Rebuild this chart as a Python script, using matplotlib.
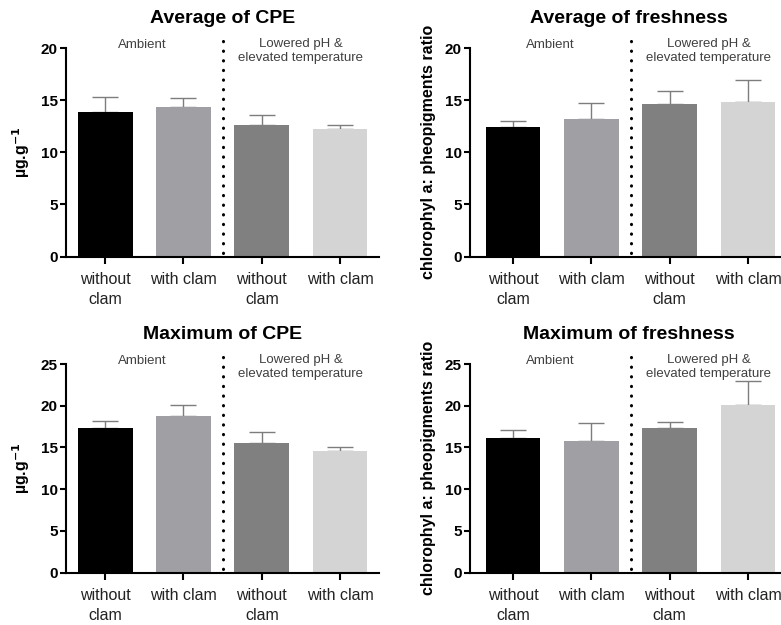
import matplotlib
matplotlib.use("Agg")
import matplotlib.pyplot as plt
import numpy as np

plt.rcParams['font.family'] = ['Liberation Sans', 'DejaVu Sans']

categories = ["without\nclam", "with clam", "without\nclam", "with clam"]
bar_colors = ["#000000", "#a0a0a4", "#808080", "#d4d4d4"]

avg_cpe = [13.9, 14.3, 12.6, 12.2]
avg_cpe_err = [1.4, 0.9, 1.0, 0.45]

avg_fresh = [12.45, 13.2, 14.6, 14.8]
avg_fresh_err = [0.5, 1.5, 1.25, 2.15]

max_cpe = [17.35, 18.8, 15.55, 14.55]
max_cpe_err = [0.8, 1.3, 1.3, 0.45]

max_fresh = [16.15, 15.75, 17.35, 20.05]
max_fresh_err = [0.9, 2.2, 0.7, 2.9]

panels = [
    dict(title="Average of CPE", vals=avg_cpe, err=avg_cpe_err, ymax=20,
         ylabel="µg.g$^{\\mathbf{-1}}$", left=66, top=48, xl=-0.5),
    dict(title="Average of freshness", vals=avg_fresh, err=avg_fresh_err, ymax=20,
         ylabel="chlorophyl a: pheopigments ratio", left=470, top=48, xl=-0.55),
    dict(title="Maximum of CPE", vals=max_cpe, err=max_cpe_err, ymax=25,
         ylabel="µg.g$^{\\mathbf{-1}}$", left=66, top=364, xl=-0.5),
    dict(title="Maximum of freshness", vals=max_fresh, err=max_fresh_err, ymax=25,
         ylabel="chlorophyl a: pheopigments ratio", left=470, top=364, xl=-0.55),
]

W, H = 781, 625
fig = plt.figure(figsize=(W / 100, H / 100), dpi=100)

for p in panels:
    xl = p["xl"]
    span = 3.5 - xl
    width_px = 78.3 * span
    height_px = 208.5
    ax = fig.add_axes([p["left"] / W, 1 - (p["top"] + height_px) / H,
                       width_px / W, height_px / H])
    x = np.arange(len(categories))
    ax.errorbar(x, p["vals"], yerr=[np.zeros(4), p["err"]], fmt="none",
                ecolor="#7d7d7d", elinewidth=1.0, capsize=9.5, capthick=1.0,
                zorder=1)
    ax.bar(x, p["vals"], width=0.7, color=bar_colors, zorder=2)
    ax.set_xlim(xl, 3.5)
    ax.set_ylim(0, p["ymax"])
    ax.set_yticks(np.arange(0, p["ymax"] + 1, 5))
    ax.set_xticks(x)
    ax.set_xticklabels(categories, fontsize=11.5, color="#222222",
                       linespacing=1.4)
    for lab in ax.get_yticklabels():
        lab.set_fontweight("bold")
        lab.set_fontsize(11)
    ax.tick_params(axis="y", direction="out", length=4, width=1.5, pad=2)
    ax.tick_params(axis="x", direction="out", length=5, width=1.5, pad=6)
    for s in ["top", "right"]:
        ax.spines[s].set_visible(False)
    for s in ["left", "bottom"]:
        ax.spines[s].set_linewidth(1.5)
    ax.set_ylabel(p["ylabel"], fontsize=11.5, fontweight="bold", labelpad=6)
    ax.set_title(p["title"], fontsize=14, fontweight="bold", pad=18)

    ym = p["ymax"]
    ax.plot([1.5, 1.5], [0.3 * ym / 20, 1.055 * ym], color="black",
            linestyle=(0, (0.1, 3.05)), linewidth=2.2,
            dash_capstyle="round", clip_on=False, zorder=3)
    ax.text(0.47, 1.015 * ym, "Ambient", ha="center", va="center",
            fontsize=9.5, color="#404040")
    ax.text(2.5, 0.985 * ym, "Lowered pH &\nelevated temperature",
            ha="center", va="center", fontsize=9.5, color="#404040",
            linespacing=1.25)

fig.savefig("out.png", dpi=100)
